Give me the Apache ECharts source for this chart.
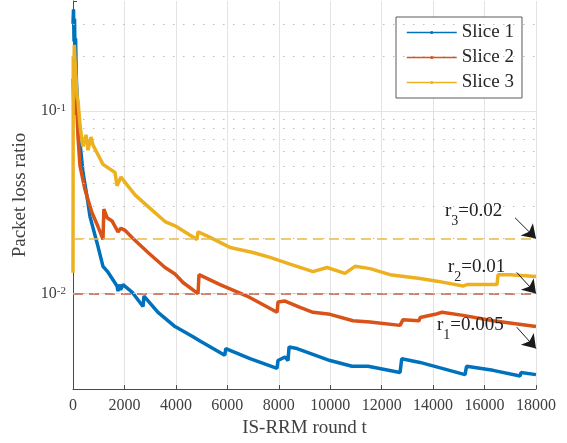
<!DOCTYPE html>
<html>
<head>
<meta charset="utf-8">
<script src="https://cdn.jsdelivr.net/npm/echarts@6/dist/echarts.min.js"></script>
<style>
html, body { margin: 0; padding: 0; background: #fff; }
#main { width: 567px; height: 443px; }
</style>
</head>
<body>
<div id="main"></div>
<script>
// packet loss ratio per IS-RRM round
var slice1 = [[0,0.30],[20,0.36],[40,0.24],[60,0.32],[80,0.19],[100,0.25],[130,0.15],[160,0.12],[200,0.089],[272,0.067],[389,0.046],[544,0.034],[661,0.0264],[933,0.019],[1166,0.0141],[1361,0.0131],[1711,0.011],[1750,0.0103],[1790,0.0112],[1850,0.0105],[1944,0.0112],[2294,0.0102],[2722,0.0085],[2760,0.0097],[3305,0.0079],[3966,0.0066],[4666,0.0058],[4938,0.0055],[5900,0.0046],[5940,0.0050],[6882,0.0044],[7932,0.0039],[7970,0.0043],[8243,0.0045],[8359,0.0043],[8400,0.0051],[8709,0.0050],[9992,0.0043],[10848,0.0040],[10886,0.0041],[11470,0.0040],[12714,0.0037],[12780,0.0044],[13491,0.0042],[15241,0.0036],[15300,0.0040],[16330,0.0038],[17380,0.00354],[17420,0.0037],[18000,0.0036]];
var slice2 = [[0,0.15],[30,0.11],[60,0.14],[100,0.095],[140,0.11],[194,0.072],[272,0.05],[467,0.037],[739,0.0277],[972,0.0233],[1166,0.0198],[1200,0.029],[1330,0.026],[1516,0.025],[1750,0.0218],[1866,0.0228],[2022,0.0222],[2294,0.0203],[2916,0.0168],[3577,0.0139],[3966,0.0128],[4277,0.0115],[4860,0.0100],[4899,0.0127],[5715,0.0112],[6765,0.0097],[7932,0.0079],[7970,0.0090],[8243,0.0091],[8826,0.0084],[9331,0.0079],[9992,0.0077],[10886,0.0071],[11547,0.0070],[12714,0.0067],[12830,0.0072],[13450,0.0071],[13500,0.0074],[14075,0.0077],[14347,0.0079],[15163,0.0076],[16330,0.0071],[18000,0.0066]];
var slice3 = [[0,0.013],[10,0.2],[30,0.14],[50,0.23],[78,0.19],[120,0.15],[156,0.12],[194,0.114],[272,0.084],[350,0.068],[389,0.064],[505,0.074],[583,0.061],[700,0.072],[778,0.065],[933,0.059],[1166,0.051],[1633,0.046],[1711,0.039],[1866,0.0435],[2100,0.0394],[2411,0.0347],[2799,0.031],[3577,0.0248],[3966,0.0235],[4821,0.0198],[4860,0.0218],[5326,0.0203],[6104,0.0179],[6998,0.0168],[7659,0.0158],[8437,0.0145],[9331,0.0132],[9876,0.0139],[10575,0.0129],[10964,0.0141],[11547,0.0137],[12325,0.0127],[13491,0.0121],[14152,0.0117],[15163,0.011],[15319,0.0112],[16485,0.0112],[16524,0.0127],[16991,0.0127],[18000,0.0124]];
var names = ['Slice 1', 'Slice 2', 'Slice 3'];
var targets = [0.005, 0.01, 0.02];          // r1, r2, r3
var targetLabels = [['r', '1', '=0.005'], ['r', '2', '=0.01'], ['r', '3', '=0.02']];
var minorGrid = [0.004,0.005,0.006,0.007,0.008,0.009,0.02,0.03,0.04,0.05,0.06,0.07,0.08,0.09,0.2,0.3];

var colors = ['#0072BD', '#D95319', '#EDB120'];
var dashColors = ['#5b9bd5', '#e4734a', '#efbb3c'];
var serif = "'Liberation Serif', 'Times New Roman', serif";

// where the annotation text and arrows sit (data coords)
var labelAt = [[14152, 0.00676], [14580, 0.0140], [14463, 0.0283]];
var arrowFrom = [[17250, 0.00655], [17250, 0.01306], [17185, 0.026]];

var myChart = echarts.init(document.getElementById('main'));

var series = [];
[slice1, slice2, slice3].forEach(function (d, i) {
    series.push({
        name: names[i],
        type: 'line',
        data: d,
        color: colors[i],
        symbol: 'circle',
        showSymbol: false,
        lineStyle: { width: 3.5, color: colors[i] },
        emphasis: { disabled: true },
        z: 3,
        markLine: {
            silent: true,
            symbol: 'none',
            label: { show: false },
            lineStyle: { color: dashColors[i], type: [10, 6], width: 1.5 },
            data: [{ yAxis: targets[i] }]
        }
    });
});

// dotted minor grid
series.push({
    name: 'minor',
    type: 'line',
    data: [],
    z: 1,
    markLine: {
        silent: true,
        symbol: 'none',
        label: { show: false },
        lineStyle: { color: '#bdbdbd', type: [1.5, 8.5], width: 1 },
        data: minorGrid.map(function (v) { return { yAxis: v }; })
    }
});

// r_i annotations with arrows
series.push({
    name: 'notes',
    type: 'line',
    data: [],
    z: 5,
    markLine: {
        silent: true,
        symbol: ['none', 'arrow'],
        symbolSize: 13,
        label: { show: false },
        lineStyle: { color: '#1a1a1a', type: 'solid', width: 1 },
        data: targets.map(function (v, i) {
            return [{ coord: arrowFrom[i] }, { coord: [18000, v] }];
        })
    },
    markPoint: {
        silent: true,
        symbol: 'circle',
        symbolSize: 0,
        label: {
            show: true,
            position: 'right',
            distance: 0,
            formatter: function (p) {
                var t = targetLabels[p.dataIndex];
                return '{a|' + t[0] + '}{b|' + t[1] + '}{a|' + t[2] + '}';
            },
            rich: {
                a: { fontFamily: serif, fontSize: 19, lineHeight: 19, color: '#222', verticalAlign: 'top' },
                b: { fontFamily: serif, fontSize: 14, lineHeight: 14, color: '#222', verticalAlign: 'top', padding: [13, 0, 0, 0] }
            }
        },
        data: labelAt.map(function (c) { return { coord: c }; })
    }
});

option = {
    animation: false,
    backgroundColor: '#fff',
    grid: { left: 73, right: 31, top: 1, bottom: 52 },
    legend: {
        data: names,
        orient: 'vertical',
        left: 396,
        top: 17,
        padding: [6, 8, 6, 10],
        itemWidth: 50,
        itemHeight: 4,
        itemGap: 6,
        backgroundColor: '#fff',
        borderColor: '#5a5a5a',
        borderWidth: 1,
        lineStyle: { width: 1.5 },
        textStyle: { fontFamily: serif, fontSize: 19, lineHeight: 19, color: '#262626' }
    },
    xAxis: {
        type: 'value',
        min: 0,
        max: 18000,
        interval: 2000,
        name: 'IS-RRM round t',
        nameLocation: 'middle',
        nameGap: 28,
        nameTextStyle: { fontFamily: serif, fontSize: 19, color: '#404040' },
        axisLine: { lineStyle: { color: '#4a4a4a', width: 1 } },
        axisTick: { inside: true, length: 4, lineStyle: { color: '#4a4a4a' } },
        axisLabel: {
            fontFamily: serif, fontSize: 16, color: '#404040', margin: 9,
            formatter: function (v) { return String(v); }
        },
        splitLine: { show: true, lineStyle: { color: '#e3e3e3', width: 1 } }
    },
    yAxis: {
        type: 'log',
        logBase: 10,
        min: 0.003,
        max: 0.4,
        name: 'Packet loss ratio',
        nameLocation: 'middle',
        nameGap: 39,
        nameTextStyle: { fontFamily: serif, fontSize: 19, color: '#404040' },
        axisLine: { lineStyle: { color: '#4a4a4a', width: 1 } },
        axisTick: { inside: true, length: 4, lineStyle: { color: '#4a4a4a' } },
        axisLabel: {
            margin: 7,
            formatter: function (v) {
                var e = Math.log10(v);
                if (Math.abs(e - Math.round(e)) > 1e-6) return '';
                return '{b|10}{s|' + Math.round(e) + '}';
            },
            rich: {
                b: { fontFamily: serif, fontSize: 16, lineHeight: 16, color: '#404040', verticalAlign: 'bottom' },
                s: { fontFamily: serif, fontSize: 11, lineHeight: 11, color: '#404040', verticalAlign: 'top', padding: [0, 0, 8, 0] }
            }
        },
        splitLine: { show: true, showMinLine: false, showMaxLine: false, lineStyle: { color: '#e3e3e3', width: 1 } }
    },
    series: series
};
myChart.setOption(option);
</script>
</body>
</html>
